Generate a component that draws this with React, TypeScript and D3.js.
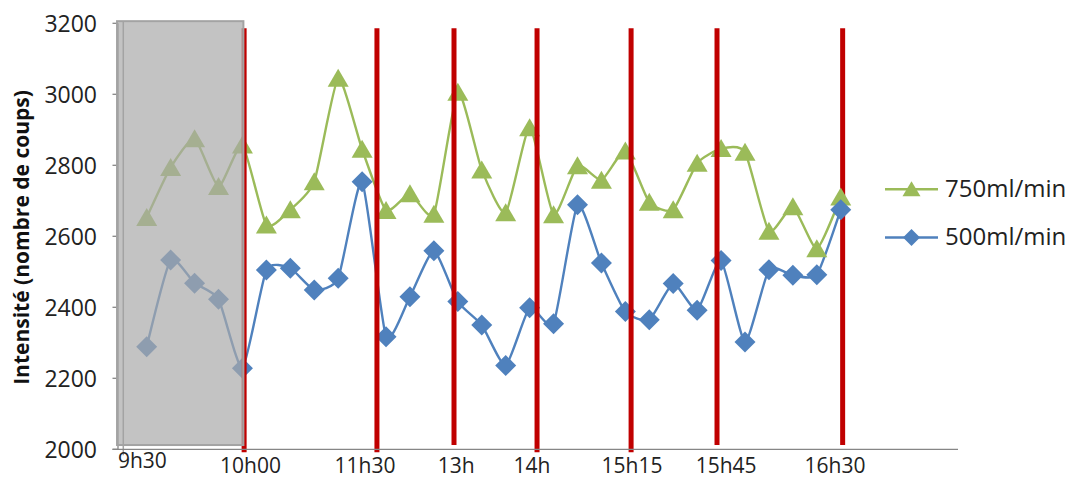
import React from 'react';
import * as d3 from 'd3';

// Intensity series (nombre de coups), one value per sample
const series750 = [2653, 2794, 2875, 2740, 2857, 2632, 2675, 2754, 3045, 2845, 2673, 2720, 2662, 3006, 2787, 2666, 2906, 2661, 2799, 2758, 2840, 2696, 2675, 2806, 2847, 2837, 2614, 2683, 2565, 2711];
const series500 = [2289, 2533, 2468, 2423, 2228, 2505, 2510, 2449, 2482, 2754, 2317, 2430, 2559, 2416, 2350, 2236, 2399, 2354, 2689, 2525, 2388, 2365, 2467, 2392, 2532, 2302, 2506, 2490, 2492, 2675];
const samples = series750.map((_, i) => i);

const yTicks = [2000, 2200, 2400, 2600, 2800, 3000, 3200];

// Event markers (positions in sample-index units)
const eventLabels = ['10h00', '11h30', '13h', '14h', '15h15', '15h45', '16h30'];
const eventPos = [4.07, 9.62, 12.84, 16.31, 20.24, 23.83, 29.08];
const eventLabelPos = [4.34, 9.12, 12.93, 16.1, 20.28, 24.21, 28.76];
const eventBottom = [1992, 1992, 2012, 1992, 1992, 2012, 2012];
const eventTop = 3186;
const eventOnTop = [true, true, true, true, true, true, false];

const startLabel = '9h30';
const startLabelPos = -0.18;
const startTickPos = -1.0;

const shadedX = [-1.24, 4.04];
const shadedY = [2012, 3206];

const seriesNames = ['750ml/min', '500ml/min'];
const GREEN = '#9BBB59';
const BLUE = '#4F81BD';
const RED = '#C00000';
const AXIS = '#868686';
const FONT = "'Open Sans', sans-serif";

export default function App() {
  const W = 1070, H = 479;
  const x = d3.scaleLinear().domain([-1.2, 33.9]).range([118, 958]);
  const y = d3.scaleLinear().domain([2000, 3200]).range([449.3, 23.3]);

  const line = d3
    .line<number>()
    .x((_, i) => x(samples[i]))
    .y((d) => y(d))
    .curve(d3.curveCardinal.tension(0.45));

  const tri = 'M0,-9.5 L10.5,8.5 L-10.5,8.5 Z';
  const dia = 'M0,-10.5 L10.5,0 L0,10.5 L-10.5,0 Z';
  const triS = 'M0,-8 L9,7 L-9,7 Z';
  const diaS = 'M0,-8.5 L8.5,0 L0,8.5 L-8.5,0 Z';

  const redLine = (i: number) => (
    <line
      key={'ev' + i}
      x1={x(eventPos[i])}
      x2={x(eventPos[i])}
      y1={y(eventTop)}
      y2={y(eventBottom[i])}
      stroke={RED}
      strokeWidth={5}
    />
  );

  return (
    <svg width={W} height={H} style={{ position: 'absolute', left: 0, top: 0, background: '#fff' }}>
      {/* y tick labels */}
      {yTicks.map((t) => (
        <text key={t} x={97} y={y(t) + 8.5} textAnchor="end" fontFamily={FONT} fontSize={23} fill="#222">
          {t}
        </text>
      ))}
      {/* y tick marks */}
      {yTicks.map((t) => (
        <line key={'yt' + t} x1={112.5} x2={118} y1={y(t)} y2={y(t)} stroke={AXIS} strokeWidth={1.3} />
      ))}
      <line x1={118} x2={118} y1={y(3200)} y2={y(2000)} stroke={AXIS} strokeWidth={1.3} />

      {/* axis title */}
      <text
        transform={`translate(29,237.5) rotate(-90)`}
        textAnchor="middle"
        fontFamily={FONT}
        fontWeight={700}
        fontSize={21}
        fill="#111"
      >
        Intensité (nombre de coups)
      </text>

      {/* event lines behind series */}
      {eventPos.map((_, i) => (!eventOnTop[i] ? redLine(i) : null))}

      {/* series lines */}
      <path d={line(series750) || ''} fill="none" stroke={GREEN} strokeWidth={2.4} />
      <path d={line(series500) || ''} fill="none" stroke={BLUE} strokeWidth={2.4} />
      {series750.map((v, i) => (
        <path key={'g' + i} d={tri} transform={`translate(${x(samples[i])},${y(v)})`} fill={GREEN} />
      ))}
      {series500.map((v, i) => (
        <path key={'b' + i} d={dia} transform={`translate(${x(samples[i])},${y(v)})`} fill={BLUE} />
      ))}

      {/* event lines on top */}
      {eventPos.map((_, i) => (eventOnTop[i] ? redLine(i) : null))}

      {/* shaded start period */}
      <rect
        x={x(shadedX[0])}
        y={y(shadedY[1])}
        width={x(shadedX[1]) - x(shadedX[0])}
        height={y(shadedY[0]) - y(shadedY[1])}
        fill="#aaaaaa"
        fillOpacity={0.7}
        stroke="#a3a3a3"
        strokeWidth={2}
      />
      <line
        x1={x(startTickPos) + 0.5}
        x2={x(startTickPos) + 0.5}
        y1={y(shadedY[1])}
        y2={y(2000) + 6}
        stroke="#a3a3a3"
        strokeWidth={1.5}
      />

      {/* x axis */}
      <line x1={112.5} x2={958} y1={y(2000)} y2={y(2000)} stroke={AXIS} strokeWidth={1.3} />

      {/* x labels */}
      <text x={x(startLabelPos)} y={468} textAnchor="middle" fontFamily={FONT} fontSize={21} fill="#222">
        {startLabel}
      </text>
      {eventLabels.map((l, i) => (
        <text key={l} x={x(eventLabelPos[i])} y={473} textAnchor="middle" fontFamily={FONT} fontSize={21} fill="#222">
          {l}
        </text>
      ))}

      {/* legend */}
      <line x1={885} x2={938} y1={189.3} y2={189.3} stroke={GREEN} strokeWidth={2.4} />
      <path d={triS} transform="translate(911.5,189.3)" fill={GREEN} />
      <text x={945} y={196.5} fontFamily={FONT} fontSize={24} fill="#222">
        {seriesNames[0]}
      </text>
      <line x1={885} x2={938} y1={237.5} y2={237.5} stroke={BLUE} strokeWidth={2.4} />
      <path d={diaS} transform="translate(911.5,237.5)" fill={BLUE} />
      <text x={945} y={245} fontFamily={FONT} fontSize={24} fill="#222">
        {seriesNames[1]}
      </text>
    </svg>
  );
}
